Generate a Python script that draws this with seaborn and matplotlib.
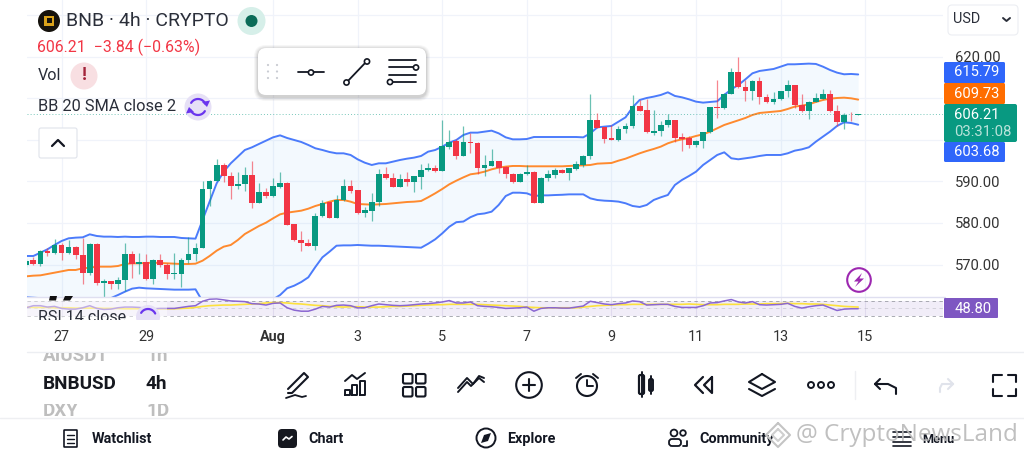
import matplotlib
matplotlib.use('Agg')
import matplotlib.pyplot as plt
from matplotlib.patches import Circle, FancyBboxPatch, Rectangle
import numpy as np
import pandas as pd
import seaborn as sns

# 4h candles
open_ = [569.80,571.09,570.04,573.25,572.85,574.78,572.85,574.14,572.29,567.87,
         574.94,565.62,565.94,565.30,566.27,572.61,570.20,570.60,566.51,571.17,
         569.96,567.79,567.79,571.17,572.53,573.98,588.19,590.20,594.06,591.33,
         588.92,589.40,591.57,584.90,587.55,586.43,588.68,589.56,579.76,575.82,
         575.26,574.54,581.69,585.06,581.29,585.54,588.84,587.87,582.33,582.97,
         585.14,591.89,590.93,588.76,590.60,589.96,591.17,592.69,593.26,592.61,
         598.40,599.68,596.15,599.52,599.36,593.26,593.82,594.86,593.42,591.89,
         589.96,591.73,592.37,584.90,590.77,591.65,592.77,591.97,593.01,594.06,
         596.07,604.74,603.05,600.40,600.00,602.65,603.38,608.19,607.23,601.77,
         602.17,603.70,604.82,600.65,600.41,598.80,599.76,601.85,607.96,607.80,
         611.09,616.31,612.86,611.81,614.30,610.37,609.16,609.88,611.73,613.18,
         608.36,606.99,609.16,609.96,611.17,606.99,604.34,606.11,606.05]
close = [570.92,570.04,573.25,572.85,574.78,572.85,574.14,572.29,567.87,574.94,
         565.62,565.94,565.30,566.27,572.61,570.12,570.60,566.51,571.17,569.96,
         567.71,567.95,571.17,572.53,573.98,588.19,590.20,594.06,591.33,588.92,
         589.40,591.57,584.90,587.55,586.43,588.84,589.56,579.60,575.82,575.10,
         574.54,581.69,584.90,581.29,585.62,588.84,587.79,582.33,583.13,585.14,
         591.89,590.77,588.76,590.60,589.96,591.33,592.69,593.34,592.53,598.56,
         599.60,596.07,599.52,599.20,593.18,593.90,594.86,593.34,591.89,589.96,
         591.81,592.37,584.90,590.85,591.81,592.85,592.05,593.18,594.22,596.23,
         604.74,602.97,600.24,600.00,602.65,603.38,608.19,607.07,601.85,602.25,
         603.70,604.82,600.57,600.16,598.80,599.76,601.85,607.96,607.80,611.17,
         616.31,612.78,611.81,614.30,610.37,609.24,609.96,611.73,613.18,608.36,
         606.99,609.16,610.04,611.17,606.99,604.34,606.11,605.95,606.21]
high = [571.25,571.89,573.49,573.90,576.07,575.10,575.90,574.46,576.31,575.26,
        575.10,566.51,566.10,566.91,575.10,573.17,572.69,572.53,571.25,572.45,
        570.28,572.69,571.49,576.55,575.26,590.20,590.30,595.34,594.46,592.29,
        592.37,593.41,594.94,589.56,588.35,590.76,592.21,589.80,579.85,578.15,
        576.07,582.33,585.54,585.14,586.75,590.52,590.36,587.95,583.94,587.15,
        592.93,593.58,591.97,591.81,592.37,591.40,594.22,594.38,593.98,604.82,
        602.41,600.16,603.38,601.77,599.40,596.39,597.75,595.02,593.74,591.97,
        591.97,593.98,592.53,591.17,592.77,593.18,592.93,593.34,595.02,596.39,
        611.09,606.59,603.22,603.62,603.38,604.18,610.85,609.64,609.80,607.23,
        604.58,606.27,604.90,601.77,601.05,600.00,601.90,608.04,614.46,611.25,
        617.27,620.08,614.46,614.40,615.10,611.09,611.65,611.89,614.46,613.34,
        611.09,609.40,611.25,612.29,612.05,608.36,606.59,606.75,606.30]
low = [569.48,569.88,569.64,572.05,572.45,571.09,572.53,571.25,565.30,567.47,
       565.06,561.50,564.18,564.02,563.62,566.67,567.71,566.27,565.30,569.48,
       566.43,566.43,564.66,570.28,570.76,573.90,584.10,590.12,589.96,585.70,
       588.11,587.79,583.70,584.74,585.94,586.35,588.35,579.44,575.66,573.33,
       574.46,573.49,581.53,581.21,581.13,585.38,587.15,582.25,581.37,580.56,
       584.10,590.52,588.60,588.60,589.00,587.55,588.11,592.53,592.37,592.53,
       597.75,595.50,596.07,596.95,591.81,591.33,593.74,591.97,590.85,589.56,
       589.88,591.65,584.85,584.74,590.20,590.77,591.97,590.36,592.77,593.42,
       595.34,602.81,599.20,599.97,599.84,601.61,602.81,606.91,601.61,601.21,
       600.97,603.22,599.60,597.43,598.00,598.40,598.00,601.77,605.22,607.47,
       611.01,612.61,609.40,609.64,608.60,609.00,608.68,609.64,610.28,607.63,
       606.75,605.14,609.10,609.80,606.83,603.38,602.57,604.58,605.95]

bb_upper = [572.05,572.05,572.85,573.66,574.70,575.66,576.31,576.47,576.55,577.27,
            576.87,576.71,576.71,576.63,576.71,576.63,576.63,576.71,576.71,576.63,
            576.63,576.63,576.39,576.31,576.23,580.72,585.14,589.56,592.37,594.38,
            595.98,597.59,598.23,599.04,599.84,600.64,601.12,600.48,600.00,599.52,
            598.80,598.00,597.59,597.11,596.79,596.79,596.39,595.34,594.54,593.98,
            594.38,594.38,594.78,595.18,595.50,595.75,596.15,597.19,597.59,598.40,
            599.36,600.00,601.21,601.77,601.77,602.01,602.25,601.61,600.64,600.16,
            600.16,600.24,600.72,600.72,600.72,600.72,600.72,600.72,600.72,600.64,
            601.61,603.05,603.22,603.38,604.42,605.46,607.87,609.64,610.12,610.45,
            610.85,611.49,610.61,610.28,609.80,609.24,609.00,609.16,609.32,610.85,
            612.21,613.26,614.62,616.07,616.63,616.87,617.11,617.67,618.24,618.24,
            618.32,618.40,618.32,617.67,616.87,616.23,615.83,615.91,615.79]
bb_basis = [567.15,567.31,567.39,567.71,568.03,568.35,568.68,568.68,569.08,569.24,
            569.48,569.48,569.48,569.64,570.12,570.28,570.28,570.36,570.44,570.36,
            570.28,570.20,570.12,570.12,570.20,570.92,572.05,573.33,574.30,574.70,
            575.90,577.35,578.31,579.28,580.08,581.12,582.09,582.49,582.73,582.97,
            583.45,584.10,584.58,585.14,585.54,585.54,585.14,584.58,584.50,584.42,
            584.50,584.58,584.74,584.90,585.06,585.14,585.30,586.19,587.15,588.19,
            589.32,590.20,591.00,591.73,591.97,592.37,592.93,593.34,593.58,593.74,
            593.74,593.66,593.66,593.66,593.66,593.66,593.66,593.74,593.82,593.90,
            593.98,594.30,594.38,594.46,595.02,595.50,596.15,596.79,597.35,597.84,
            598.40,599.20,599.76,600.16,600.49,600.97,601.37,602.01,602.82,603.62,
            604.18,604.74,605.31,606.03,606.51,606.67,606.83,606.99,607.47,608.04,
            608.28,608.60,609.16,609.64,609.96,610.12,610.20,610.04,609.73]
bb_lower = [562.10,562.00,561.90,561.80,561.40,561.00,561.00,560.90,561.60,561.20,
            561.90,561.90,561.90,562.65,563.46,564.18,564.42,564.26,564.18,564.10,
            564.02,563.94,563.94,563.94,564.02,561.12,558.96,557.10,556.23,555.02,
            555.82,557.11,558.39,559.52,560.32,561.60,562.65,564.27,564.90,565.78,
            566.91,569.40,571.73,573.08,574.53,574.61,574.61,574.70,574.61,574.53,
            574.53,574.45,574.37,574.29,574.21,574.13,574.05,575.00,576.07,577.50,
            579.10,580.20,580.35,581.40,582.10,582.30,582.73,584.34,586.50,587.30,
            587.30,587.15,586.50,586.66,586.66,586.74,586.80,586.90,586.90,586.90,
            585.94,585.54,585.38,585.30,585.15,584.75,584.10,583.86,584.34,585.55,
            586.19,586.75,589.16,590.37,591.33,592.37,593.98,595.18,596.39,597.03,
            595.59,595.35,595.59,595.83,596.15,596.39,596.39,596.39,596.79,597.43,
            597.75,598.24,599.60,600.81,602.01,603.38,604.26,604.10,603.68]

rsi = [51.3,56.7,56.7,53.1,54.9,49.6,47.8,47.8,51.3,56.7,
       49.6,46.9,47.8,51.3,53.1,53.1,52.2,50.4,48.7,49.6,
       49.6,49.6,52.2,54.9,56.7,68.2,73.6,74.4,71.8,69.1,
       68.2,67.3,62.0,61.1,58.4,62.9,63.8,51.3,45.1,42.4,
       42.4,47.8,54.9,53.1,57.6,58.4,56.7,51.0,51.3,56.7,
       61.1,59.3,57.6,56.7,57.6,59.3,61.1,62.0,63.8,66.4,
       70.0,63.8,63.8,66.4,56.7,54.9,54.0,52.2,49.6,50.4,
       51.3,53.1,42.4,49.6,51.3,51.3,50.4,50.4,53.1,55.8,
       68.2,64.7,61.1,59.3,62.0,63.8,69.1,67.3,58.4,59.3,
       60.2,60.2,54.9,52.2,52.2,52.2,56.7,63.8,64.7,69.1,
       72.7,66.4,63.8,67.3,59.3,58.4,59.3,60.2,62.9,54.9,
       50.4,54.0,56.7,58.4,51.3,44.2,47.8,48.7,48.8]
rsi_ma = [53.1,52.2,52.2,52.2,51.3,51.3,51.3,50.4,50.4,50.4,
          50.4,49.6,49.6,49.6,48.7,48.7,48.7,48.7,48.7,48.7,
          48.7,48.7,49.6,50.4,52.2,54.9,56.7,57.6,58.4,58.4,
          59.3,60.2,61.1,62.0,63.8,64.7,64.7,63.8,62.0,61.1,
          59.3,57.6,56.7,54.9,54.0,53.1,54.0,54.0,53.1,53.1,
          53.1,54.0,54.9,54.9,55.8,56.7,57.6,58.4,59.3,59.3,
          60.2,60.2,60.2,60.2,60.2,59.3,58.4,57.6,56.7,55.8,
          54.9,53.1,52.2,51.3,51.3,51.3,51.3,51.3,51.3,53.1,
          54.9,56.7,57.6,58.4,59.3,59.3,60.2,60.2,60.2,60.2,
          60.2,60.2,60.2,60.2,61.1,60.2,59.3,59.3,59.3,60.2,
          60.2,60.2,61.1,61.1,61.1,62.0,62.0,62.0,62.9,62.0,
          62.0,61.1,61.1,60.2,58.4,56.7,54.9,54.0,53.1]

tick_bars = [5, 17, 35, 47, 59, 71, 83, 95, 107, 119]
tick_labels = ['27', '29', 'Aug', '3', '5', '7', '9', '11', '13', '15']
price_ticks = [570, 580, 590, 600, 610, 620, 630]
price_labels = ['570.00', '580.00', '590.00', '', '', '620.00', '']

GREEN = '#089981'
RED = '#f23645'
BLUE = '#2f66fa'
ORANGE = '#ff6d00'
PURPLE = '#7e57c2'
INK = '#131722'

df = pd.DataFrame({'bar': range(len(close)), 'open': open_, 'close': close,
                   'high': high, 'low': low, 'upper': bb_upper,
                   'basis': bb_basis, 'lower': bb_lower,
                   'rsi': rsi, 'rsi_ma': rsi_ma})
df['color'] = np.where(df['close'] >= df['open'], GREEN, RED)

sns.set_theme(style='white')
plt.rcParams['font.family'] = ['Roboto', 'DejaVu Sans']

W, H = 1024, 461
fig = plt.figure(figsize=(W / 100, H / 100), dpi=100, facecolor='white')


def pane(left, top, right, bottom):
    return fig.add_axes([left / W, 1 - bottom / H, (right - left) / W, (bottom - top) / H])


# price pane. bar i sits at 26.3 + 7.05 i px
x_from_px = lambda px: (px - 26.3) / 7.05
ax = pane(27, 0, 943, 297)
ax.set_xlim(x_from_px(27), x_from_px(943))
ax.set_ylim(562.17, 633.73)
ax.set_facecolor('white')
ax.set_xticks(tick_bars)
ax.set_xticklabels([])
ax.set_yticks(price_ticks)
ax.set_yticklabels(price_labels)
ax.yaxis.tick_right()
ax.tick_params(axis='y', length=0, pad=8.5, labelsize=10.6, labelcolor='#333333')
ax.tick_params(axis='x', length=0)
ax.grid(True, color='#f0f3fa', lw=0.9)
ax.set_axisbelow(True)
for s in ax.spines.values():
    s.set_visible(False)

ax.fill_between(df['bar'], df['lower'], df['upper'], color='#2196f3', alpha=0.05, lw=0, zorder=1)
sns.lineplot(data=df, x='bar', y='upper', color='#4b7bfb', lw=1.4, ax=ax, zorder=2)
sns.lineplot(data=df, x='bar', y='lower', color='#4b7bfb', lw=1.4, ax=ax, zorder=2)
sns.lineplot(data=df, x='bar', y='basis', color='#ff8a2e', lw=1.4, ax=ax, zorder=2)
ax.set_xlabel('')
ax.set_ylabel('')

ax.vlines(df['bar'], df['low'], df['high'], colors=df['color'], lw=0.9, alpha=0.6, zorder=3)
ax.bar(df['bar'], (df['close'] - df['open']).abs(), bottom=df[['open', 'close']].min(axis=1),
       width=0.82, color=df['color'], lw=0, zorder=4)
ax.axhline(close[-1], color=GREEN, lw=0.7, ls=(0, (1, 2.2)), alpha=0.55, zorder=2)

# rsi pane
ax2 = pane(27, 297.5, 943, 318)
ax2.set_xlim(ax.get_xlim())
ax2.set_ylim(24.7, 78)
ax2.set_facecolor('white')
ax2.axhspan(30, 70, color=PURPLE, alpha=0.1, lw=0)
for lvl in (70, 50, 30):
    ax2.axhline(lvl, color='#9a9ca5', lw=0.7, ls=(0, (3.5, 3.5)), alpha=0.85 if lvl != 50 else 0.35)
ax2.set_xticks(tick_bars)
ax2.set_xticklabels(tick_labels, fontsize=10.4, color='#333333')
ax2.get_xticklabels()[2].set_fontweight('bold')
ax2.set_yticks([])
ax2.tick_params(axis='x', length=0, pad=8.5)
ax2.grid(True, axis='x', color='#ece9f4', lw=0.8)
ax2.set_axisbelow(True)
for s in ax2.spines.values():
    s.set_visible(False)
sns.lineplot(data=df, x='bar', y='rsi_ma', color='#fde13d', lw=1.2, ax=ax2)
sns.lineplot(data=df, x='bar', y='rsi', color='#8a66d1', lw=1.1, ax=ax2)
ax2.set_xlabel('')
ax2.set_ylabel('')

# everything around the chart is drawn in pixel coordinates
ui = fig.add_axes([0, 0, 1, 1], zorder=10)
ui.set_xlim(0, W)
ui.set_ylim(H, 0)
ui.axis('off')
ui.patch.set_alpha(0)


def box(x0, y0, x1, y1, fc, ec='none', r=2, lw=0.8, z=5, alpha=None):
    p = FancyBboxPatch((x0 + r, y0 + r), x1 - x0 - 2 * r, y1 - y0 - 2 * r,
                       boxstyle=f'round,pad={r},rounding_size={r}', fc=fc, ec=ec, lw=lw,
                       zorder=z, alpha=alpha)
    ui.add_patch(p)
    return p


def seg(xs, ys, c=INK, lw=1.3, z=7, **kw):
    return ui.plot(xs, ys, color=c, lw=lw, zorder=z, solid_capstyle='round', solid_joinstyle='round', **kw)[0]


def ring(x, y, r, ec=INK, fc='none', lw=1.2, z=7):
    ui.add_patch(Circle((x, y), r, fc=fc, ec=ec, lw=lw, zorder=z))


def txt(x, y, s, size=11, c=INK, ha='left', weight='normal', z=8, **kw):
    return ui.text(x, y, s, fontsize=size, color=c, ha=ha, va='center', fontweight=weight, zorder=z, **kw)


def clipped(artist, x0, y0, w, h):
    artist.set_clip_on(True)
    artist.set_clip_path(Rectangle((x0, y0), w, h, transform=ui.transData))
    return artist


# header
ring(49, 21, 11, ec='none', fc='#15120c')
ui.add_patch(Rectangle((44, 16), 10, 10, fc='#d9a21b', ec='none', zorder=8))
ui.add_patch(Rectangle((46.5, 18.5), 5, 5, fc='#15120c', ec='none', zorder=9))
txt(66, 21, 'BNB · 4h · CRYPTO', 14.0, '#2a2e39')
ring(251.5, 21, 14, ec='none', fc='#d6efe9')
ring(251.5, 21, 6, ec='none', fc='#0b6b58')
txt(37, 47.5, '606.21  −3.84 (−0.63%)', 11.4, RED)
txt(38, 75, 'Vol', 11.6, '#2a2e39')
ring(84, 76, 13.5, ec='none', fc='#f8dfe2')
txt(84, 75.5, '!', 13, '#a3243a', ha='center', weight='bold')
txt(38, 106.5, 'BB 20 SMA close 2', 11.75, '#2a2e39')
ring(198, 107, 13.5, ec='none', fc='#e6e0f6')
t = np.linspace(0.45, 2.6, 20)
seg(198 + 8 * np.cos(t), 107 - 8 * np.sin(t), '#6a35ee', 1.6)
seg(198 + 8 * np.cos(t + np.pi), 107 - 8 * np.sin(t + np.pi), '#6a35ee', 1.6)
ui.fill([202, 210, 207], [102, 100.5, 107], color='#6a35ee', lw=0, zorder=8)
ui.fill([194, 186, 189], [112, 113.5, 107], color='#6a35ee', lw=0, zorder=8)
box(39, 128, 77, 158, 'white', '#e0e3eb')
seg([52, 58, 64], [146, 140, 146], INK, 1.6)

# floating drawing toolbar
for grow, a in ((4, 0.05), (3, 0.06), (2, 0.08), (1, 0.10)):
    box(258 - grow, 49 - grow, 426 + grow, 97 + grow, '#555555', r=8 + grow, z=4, alpha=a)
box(258, 48, 426, 95, 'white', r=8)
for dx in (268, 277):
    for dy in (65, 71.5, 78):
        ring(dx, dy, 1.1, ec='none', fc='#c9ccd3')
seg([298, 324], [72.5, 72.5])
ring(311, 72.5, 2.6, fc='white')
seg([346, 367], [83, 61])
ring(346.5, 82.5, 2.6, fc='white')
ring(367, 61.5, 2.6, fc='white')
seg([389, 416], [60, 60])
seg([389, 413], [67.5, 67.5])
seg([389, 416], [75, 75])
seg([393, 416], [82, 82])
ring(416, 67.5, 2.6, fc='white')
ring(390, 82, 2.6, fc='white')

# price labels on the right, stacked the way the app stacks them
box(948, 5, 1018, 35, 'white', '#eceef3', r=4)
txt(953, 19, 'USD', 10.4, '#2a2e39')
seg([1003, 1006.5, 1010], [18, 21, 18], '#2a2e39', 1.4)
for (y0, y1, fc, label, x1) in [(62, 83, BLUE, f'{bb_upper[-1]:.2f}', 1005),
                                (83, 104, ORANGE, f'{bb_basis[-1]:.2f}', 1005),
                                (142, 162, BLUE, f'{bb_lower[-1]:.2f}', 1005)]:
    box(944, y0, x1, y1, fc, r=1.5)
    txt(976.5, (y0 + y1) / 2, label, 10.6, 'white', ha='center', z=9)
box(944, 104, 1017, 142, GREEN, r=2, z=6)
txt(976.5, 115, f'{close[-1]:.2f}', 10.6, 'white', ha='center', z=9)
txt(983, 132, '03:31:08', 10.7, '#b9e3da', ha='center', z=9)
box(944, 298, 998, 318, PURPLE, r=1)
txt(973.5, 309.3, f'{rsi[-1]:.2f}', 10.6, 'white', ha='center', z=9)

ring(859, 280, 11.8, ec='#9c27b0', lw=1.5)
ui.fill([862, 854, 858.5, 855, 864, 859.5], [273, 281.5, 281.5, 287, 278.5, 278.5], color='#9c27b0', zorder=8, lw=0)

# rsi label, cut off by the time axis
ui.add_patch(Rectangle((27, 297.5), 140, 20.5, fc='white', alpha=0.45, ec='none', zorder=3))
clipped(txt(38, 317.5, 'RSI 14 close', 11.6, '#2a2e39'), 0, 297, 940, 23)
clip_c = Circle((148, 317), 12, fc='#e6e0f6', ec='none', zorder=6)
ui.add_patch(clip_c)
clipped(clip_c, 0, 297, 940, 23)
clipped(seg(148 + 8 * np.cos(t), 317 - 8 * np.sin(t), '#6a35ee', 1.6), 0, 297, 940, 23)
ui.fill([50, 57, 56, 49], [296, 296, 300.5, 300.5], color='#111111', lw=0, zorder=6)
ui.fill([65, 73, 70, 63], [296, 296, 300.5, 300.5], color='#111111', lw=0, zorder=6)

# separators
seg([27, 945], [297.2, 297.2], '#dfdff0', 1.0, z=3)
seg([27, 1024], [352.3, 352.3], '#eceef2', 1.0, z=3)
seg([0, 1024], [417.5, 417.5], '#eeeff2', 1.0, z=3)
seg([855, 855], [371, 399], '#eeeff2', 1.0, z=3)

# symbol picker wheel, rows cut off above and below
for name, tf, y, cy, ch in (('AIUSDT', '1h', 356, 353, 12), ('DXY', '1D', 411, 404, 13)):
    clipped(txt(43, y, name, 13.6, '#555555', weight='bold', alpha=0.38), 0, cy, 250, ch)
    clipped(txt(146, y, tf, 13.6, '#555555', weight='bold', alpha=0.38), 0, cy, 250, ch)
clipped(txt(43, 384, 'BNBUSD', 13.6, '#16181f', weight='bold'), 0, 370, 122, 30)
clipped(txt(43, 384, 'BNBUSD', 13.6, '#a0a0a0', weight='bold', z=9), 116, 370, 9, 30)
txt(146, 384, '4h', 13.6, '#16181f', weight='bold')

# tool icons
seg([288, 304, 308, 292, 288], [389, 373, 377, 393, 393], INK, 1.5)
seg([286, 295, 302, 306], [398, 395, 397, 396], INK, 1.3)
for bx, by in ((345, 390), (352, 385), (360, 381)):
    seg([bx, bx + 5, bx + 5, bx, bx], [395, 395, by, by, 395], INK, 1.4)
seg([345, 352, 357, 365], [381, 375, 379, 373], INK, 1.4)
for ox in (403, 416):
    for oy in (374, 387):
        box(ox, oy, ox + 9.5, oy + 9.5, 'none', INK, r=1.5, lw=1.5, z=7)
seg([458, 467, 471, 479, 484], [392, 382, 386, 378, 382], INK, 1.4)
seg([458, 467, 473, 479, 484], [388, 378, 384, 376, 378], INK, 1.4)
ring(529, 385, 12.8, lw=1.5)
seg([523, 535], [385, 385], INK, 1.5)
seg([529, 529], [379, 391], INK, 1.5)
ring(587, 386, 10, lw=1.5)
seg([587, 587, 593], [380, 386, 386], INK, 1.4)
seg([576, 581], [378, 374], INK, 1.4)
seg([598, 593], [378, 374], INK, 1.4)
box(639, 375, 644, 394, 'none', INK, r=1.5, lw=1.6, z=7)
box(649, 379, 653, 391, 'none', INK, r=1.5, lw=1.4, z=7)
seg([641.5, 641.5], [372, 397], INK, 1.4)
seg([651, 651], [376, 394], INK, 1.4)
seg([703, 695, 703], [377, 385, 393], INK, 1.6)
seg([712, 704, 712, 712], [377, 385, 393, 377], INK, 1.6)
seg([762, 775, 762, 749, 762], [374, 382, 389, 382, 374], INK, 1.5)
seg([749, 762, 775], [389, 396, 389], INK, 1.5)
for rx in (811, 821, 831):
    ring(rx, 385, 3, lw=1.4)
seg([880, 875, 880], [379, 384, 389], INK, 1.5)
seg([875, 888, 896, 896], [384, 384, 388, 394], INK, 1.5, z=7)
seg([948, 953, 948], [379, 384, 389], '#e0e3eb', 1.5)
seg([953, 942, 940, 940], [384, 384, 388, 392], '#e0e3eb', 1.5)
seg([993, 993, 1002], [382, 375, 375], INK, 1.5)
seg([1008, 1016, 1016], [375, 375, 382], INK, 1.5)
seg([993, 993, 1002], [389, 396, 396], INK, 1.5)
seg([1008, 1016, 1016], [396, 396, 389], INK, 1.5)

# bottom nav
box(64, 430, 77, 447, 'white', INK, r=0.5, lw=1.2, z=7)
for ly in (435, 439, 443):
    seg([67, 74], [ly, ly], INK, 1.0)
txt(92, 439, 'Watchlist', 10.4, INK, weight='bold')
box(278, 429, 297, 448, '#16181f', r=4, z=7)
seg([283, 286, 289, 292], [440, 437, 439, 436.5], 'white', 1.2, z=8)
txt(308, 439, 'Chart', 10.4, INK, weight='bold')
ring(486, 438, 9.5, lw=1.4)
ui.fill([481, 488, 491, 484], [443, 441, 433, 435], color=INK, lw=0, zorder=8)
txt(507, 439, 'Explore', 10.4, INK, weight='bold')
ring(674, 433, 3.4, lw=1.3)
ring(683, 433, 2.8, lw=1.3)
box(669, 439, 681, 446, 'none', INK, r=3, lw=1.3, z=7)
seg([683, 687, 687], [446, 446, 441], INK, 1.3)
txt(699, 439, 'Community', 10.4, INK, weight='bold')
for ly in (432, 437, 442, 446):
    seg([893, 911], [ly, ly], INK, 1.2)
txt(922, 439, 'Menu', 9.2, INK, weight='bold')

# watermark
seg([778, 790, 778, 766, 778], [423, 435, 447, 435, 423], '#c4c4c4', 1.5, z=9)
seg([778, 784, 778, 772, 778], [429, 435, 441, 435, 429], '#cfcfcf', 1.5, z=9)
txt(796, 435, '@ CryptoNewsLand', 17.5, '#b9b9b9', family=['Open Sans', 'DejaVu Sans'], z=9, alpha=0.9)

fig.savefig('out.png', dpi=100, facecolor='white')
